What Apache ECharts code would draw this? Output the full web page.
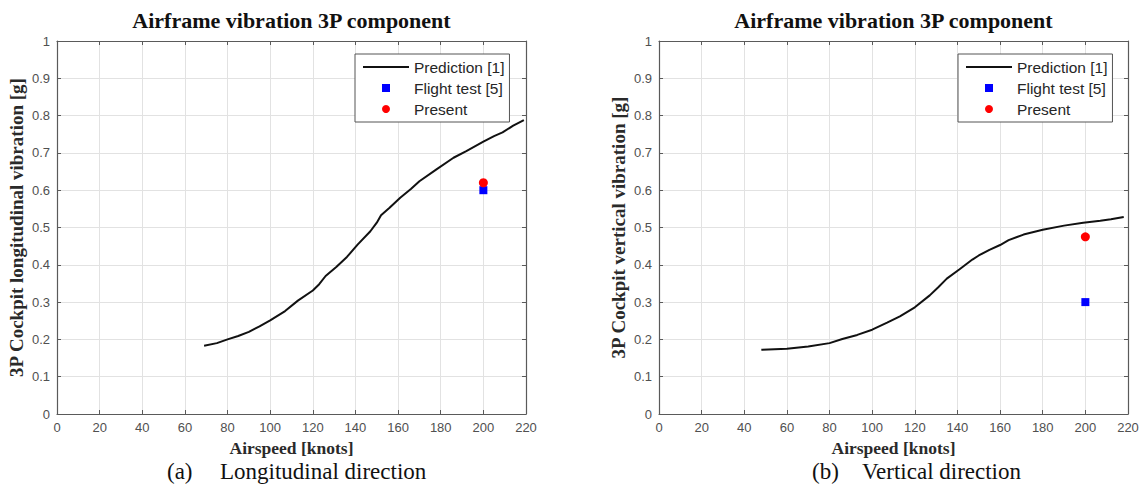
<!DOCTYPE html>
<html>
<head>
<meta charset="utf-8">
<script src="https://cdn.jsdelivr.net/npm/echarts@6/dist/echarts.min.js"></script>
<style>
html,body{margin:0;padding:0;background:#fff;}
#chart{width:1143px;height:491px;}
</style>
</head>
<body>
<div id="chart"></div>
<script>
// ---- data ----
const xTickLabels = ['0','20','40','60','80','100','120','140','160','180','200','220'];
const yTickLabels = ['0','0.1','0.2','0.3','0.4','0.5','0.6','0.7','0.8','0.9','1'];

const longSpeed = [69,75,80,85,90,95,100,107,113,120,123,126,131,136,141,147,150,152,156,161,166,170,178,186,192,200,205,209,214,219];
const longPred  = [0.183,0.190,0.200,0.209,0.220,0.235,0.251,0.276,0.304,0.331,0.348,0.370,0.394,0.421,0.454,0.490,0.513,0.533,0.553,0.580,0.603,0.624,0.656,0.687,0.705,0.730,0.745,0.755,0.773,0.788];

const vertSpeed = [48,60,70,80,86,93,100,107,113,120,127,131,135,141,147,150,155,160,164,171,180,190,199,207,212,218];
const vertPred  = [0.172,0.175,0.181,0.190,0.201,0.212,0.226,0.245,0.262,0.286,0.318,0.340,0.363,0.388,0.414,0.425,0.440,0.453,0.466,0.481,0.494,0.505,0.513,0.518,0.522,0.528];

const testSpeed = [200];
const longFlightTest = [0.60];
const longPresent = [0.62];
const vertFlightTest = [0.30];
const vertPresent = [0.475];

const seriesNames = ['Prediction [1]','Flight test [5]','Present'];
const titleText = 'Airframe vibration 3P component';
const xName = 'Airspeed [knots]';
const yNames = ['3P Cockpit longitudinal vibration [g]','3P Cockpit vertical vibration [g]'];
const captions = [['(a)','Longitudinal direction'],['(b)','Vertical direction']];

// ---- layout ----
const grids = [
  {left:57, top:41, width:469, height:373},
  {left:659, top:41, width:469, height:373}
];
const axisColor = '#5a5a5a';
const tickColor = '#505050';
const xMin = +xTickLabels[0], xMax = +xTickLabels[xTickLabels.length-1], xInt = +xTickLabels[1];
const yMin = +yTickLabels[0], yMax = +yTickLabels[yTickLabels.length-1], yInt = +yTickLabels[1];

function pairs(xs, ys){ return xs.map((x,i)=>[x, ys[i]]); }

const xAxes = [], yAxes = [];
grids.forEach((g,i)=>{
  xAxes.push({
    gridIndex:i, type:'value', min:xMin, max:xMax, interval:xInt, position:'bottom',
    name:xName, nameLocation:'middle', nameGap:22,
    nameTextStyle:{fontFamily:'Liberation Serif', fontWeight:'bold', fontSize:17.5, color:'#2a2a2a', lineHeight:18},
    axisLine:{show:true, onZero:false, lineStyle:{color:axisColor, width:1.2}},
    axisTick:{show:true, inside:true, length:4, lineStyle:{color:axisColor}},
    axisLabel:{margin:7, fontFamily:'Liberation Sans', fontSize:13, color:tickColor,
      formatter:(v)=>xTickLabels[Math.round((v-xMin)/xInt)]},
    splitLine:{show:true, lineStyle:{color:'#e2e2e2', width:1}}
  });
  yAxes.push({
    gridIndex:i, type:'value', min:yMin, max:yMax, interval:yInt, position:'left',
    name:yNames[i], nameLocation:'middle', nameGap:31, nameRotate:90,
    nameTextStyle:{fontFamily:'Liberation Serif', fontWeight:'bold', fontSize:19, color:'#2a2a2a'},
    axisLine:{show:true, onZero:false, lineStyle:{color:axisColor, width:1.2}},
    axisTick:{show:true, inside:true, length:4, lineStyle:{color:axisColor}},
    axisLabel:{margin:7, fontFamily:'Liberation Sans', fontSize:13, color:tickColor,
      formatter:(v)=>yTickLabels[Math.round((v-yMin)/yInt)]},
    splitLine:{show:true, lineStyle:{color:'#e2e2e2', width:1}}
  });
});
grids.forEach((g,i)=>{
  xAxes.push({
    gridIndex:i, type:'value', min:xMin, max:xMax, interval:xInt, position:'top',
    axisLine:{show:true, onZero:false, lineStyle:{color:axisColor, width:1.2}},
    axisTick:{show:true, inside:true, length:4, lineStyle:{color:axisColor}},
    axisLabel:{show:false}, splitLine:{show:false}
  });
  yAxes.push({
    gridIndex:i, type:'value', min:yMin, max:yMax, interval:yInt, position:'right',
    axisLine:{show:true, onZero:false, lineStyle:{color:axisColor, width:1.2}},
    axisTick:{show:true, inside:true, length:4, lineStyle:{color:axisColor}},
    axisLabel:{show:false}, splitLine:{show:false}
  });
});

const predData = [pairs(longSpeed,longPred), pairs(vertSpeed,vertPred)];
const testData = [pairs(testSpeed,longFlightTest), pairs(testSpeed,vertFlightTest)];
const presData = [pairs(testSpeed,longPresent), pairs(testSpeed,vertPresent)];

const series = [];
[0,1].forEach(i=>{
  series.push({
    name:seriesNames[0], type:'line', xAxisIndex:i, yAxisIndex:i, data:predData[i],
    symbol:'none', smooth:false, lineStyle:{color:'#111', width:2}, itemStyle:{color:'#111'},
    silent:true, z:3
  });
  series.push({
    name:seriesNames[1], type:'scatter', xAxisIndex:i, yAxisIndex:i, data:testData[i],
    symbol:'rect', symbolSize:8, itemStyle:{color:'#0000ff', opacity:1}, z:4
  });
  series.push({
    name:seriesNames[2], type:'scatter', xAxisIndex:i, yAxisIndex:i, data:presData[i],
    symbol:'circle', symbolSize:9, itemStyle:{color:'#ff0000', opacity:1}, z:5
  });
});

const legendPos = [{left:355, top:54},{left:958, top:54}];
const legends = legendPos.map(p=>({
  left:p.left, top:p.top, orient:'vertical',
  data:[
    {name:seriesNames[0], icon:'path://M0,0 H46 V2 H0 Z', itemStyle:{color:'#111', opacity:1}},
    {name:seriesNames[1], icon:'path://M0,0 H8 V8 H0 Z', itemStyle:{color:'#0000ff', opacity:1}},
    {name:seriesNames[2], icon:'circle', itemStyle:{color:'#ff0000', opacity:1}}
  ],
  itemWidth:46, itemHeight:8, itemGap:3,
  padding:[4,5,4,8],
  borderColor:'#555', borderWidth:1, backgroundColor:'#fff', borderRadius:0,
  selectedMode:false,
  textStyle:{fontFamily:'Liberation Sans', fontSize:15.5, color:'#262626', lineHeight:18}
}));

const titleCenters = grids.map(g=>g.left + g.width/2);
const graphics = [];
titleCenters.forEach((cx,i)=>{
  graphics.push({type:'text', x:cx, y:20, style:{
    text:titleText, x:0, y:0, textAlign:'center', textVerticalAlign:'middle',
    font:'bold 22px "Liberation Serif"', fill:'#111'}});
});
const capX = [[167,220],[812,862]];
captions.forEach((c,i)=>{
  graphics.push({type:'text', x:capX[i][0], y:471, style:{text:c[0], textAlign:'left', textVerticalAlign:'middle', font:'23px "Liberation Serif"', fill:'#111'}});
  graphics.push({type:'text', x:capX[i][1], y:471, style:{text:c[1], textAlign:'left', textVerticalAlign:'middle', font:'23px "Liberation Serif"', fill:'#111'}});
});

const chart = echarts.init(document.getElementById('chart'), null, {renderer:'svg'});
chart.setOption({
  animation:false,
  backgroundColor:'#fff',
  grid: grids.map(g=>Object.assign({show:false, containLabel:false}, g)),
  xAxis:xAxes, yAxis:yAxes,
  legend:legends,
  series:series,
  graphic:graphics
});
</script>
</body>
</html>
